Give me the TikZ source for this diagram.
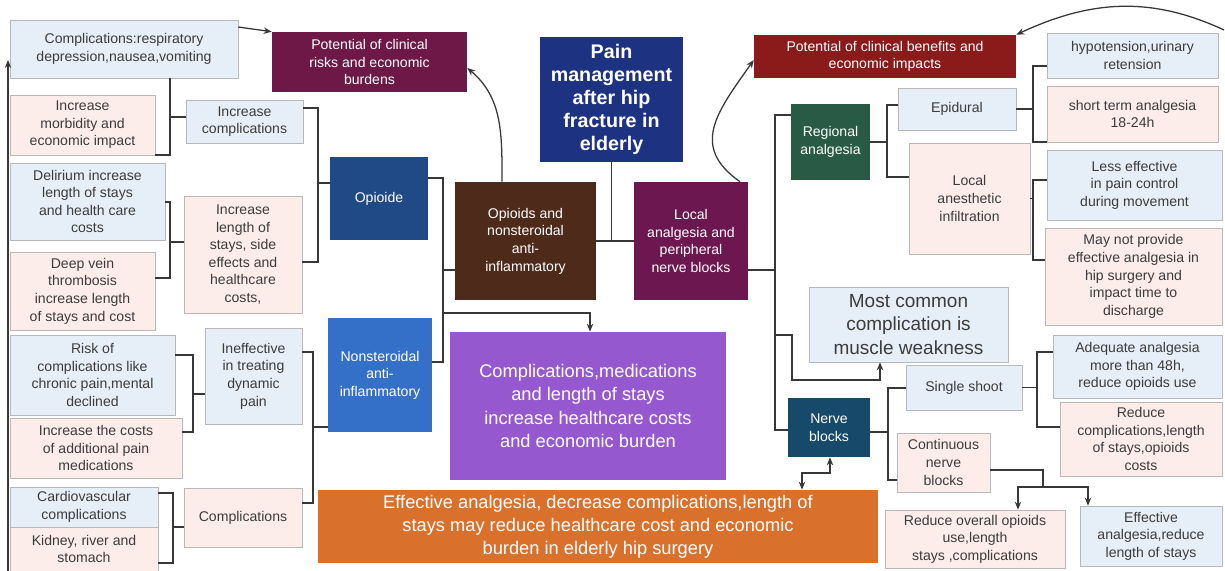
\documentclass[tikz,border=0pt]{standalone}
\usepackage{fontspec}
\setmainfont{Liberation Sans}
\usepackage{tikz}
\usetikzlibrary{
  arrows.meta,
  calc,
  positioning
}
\definecolor{opioblue}{RGB}{31,74,133}
\definecolor{nsaidblue}{RGB}{53,112,200}
\definecolor{riskplum}{RGB}{110,24,72}
\definecolor{painnavy}{RGB}{30,50,130}
\definecolor{mixbrown}{RGB}{78,42,26}
\definecolor{localplum}{RGB}{108,23,80}
\definecolor{costpurple}{RGB}{149,88,207}
\definecolor{effectorange}{RGB}{217,112,44}
\definecolor{benefitred}{RGB}{139,26,26}
\definecolor{regiongreen}{RGB}{40,90,69}
\definecolor{nerveteal}{RGB}{23,74,106}
\definecolor{noteblue}{RGB}{230,238,248}
\definecolor{notepink}{RGB}{252,237,234}
\definecolor{linegray}{RGB}{55,55,55}
\definecolor{textgray}{RGB}{60,60,60}

\begin{document}
\begin{tikzpicture}[
  x=0.025cm, y=-0.025cm,
  box/.style={align=center, inner sep=2pt, font=\fontsize{10}{12.5}\selectfont},
  note/.style={box, draw=black!28, text=textgray},
  noteb/.style={note, fill=noteblue},
  notep/.style={note, fill=notepink},
  dark/.style={box, text=white},
  big/.style={font=\fontsize{13}{16.5}\selectfont},
  sz/.style 2 args={minimum width=#1*0.025cm, minimum height=#2*0.025cm},
  link/.style={draw=linegray, line width=0.9pt},
  arr/.style={link, -{Stealth[length=2mm, width=1.6mm]}},
  darr/.style={link, {Stealth[length=2mm, width=1.6mm]}-{Stealth[length=2mm, width=1.6mm]}}
]
\path[use as bounding box, fill=white] (0,0) rectangle (1225,571);

% Centre
\node[dark, fill=painnavy, sz={143}{125}, font=\fontsize{14}{16.5}\selectfont\bfseries] (pain) at (611.5,99.5) {Pain\\management\\after hip\\fracture in\\elderly};
\node[dark, fill=mixbrown, sz={141}{118}] (both) at (525.5,241) {Opioids and\\nonsteroidal\\anti-\\inflammatory};
\node[dark, fill=localplum, sz={114}{118}] (local) at (691,241) {Local\\analgesia and\\peripheral\\nerve blocks};
\node[dark, fill=costpurple, sz={276}{148}, big] (costs) at (588,406) {Complications,medications\\and length of stays\\increase healthcare costs\\and economic burden};
\node[dark, fill=effectorange, sz={560}{73}, big] (eff) at (598,526.5) {Effective analgesia, decrease complications,length of\\stays may reduce healthcare cost and economic\\burden in elderly hip surgery};

% Opioid side
\node[dark, fill=riskplum, sz={195}{60}] (risks) at (369.5,62) {Potential of clinical\\risks and economic\\burdens};
\node[dark, fill=opioblue, sz={98}{83}] (opio) at (379,198.5) {Opioide};
\node[dark, fill=nsaidblue, sz={104}{114}] (nsaid) at (380,375) {Nonsteroidal\\anti-\\inflammatory};
\node[noteb, sz={117}{43}] (incc) at (244.5,121.5) {Increase\\complications};
\node[notep, sz={118}{117}] (lstay) at (243,254.5) {Increase\\length of\\stays, side\\effects and\\healthcare\\costs,};
\node[noteb, sz={97}{96}] (ineff) at (253.5,376) {Ineffective\\in treating\\dynamic\\pain};
\node[notep, sz={118}{59}] (compl) at (243,517.5) {Complications};
\node[noteb, sz={228}{58}] (cresp) at (124,49) {Complications:respiratory\\depression,nausea,vomiting};
\node[notep, sz={145}{60}] (morb) at (82.5,125) {Increase\\morbidity and\\economic impact};
\node[noteb, sz={155}{77}] (delir) at (87.5,201.5) {Delirium increase\\length of stays\\and health care\\costs};
\node[notep, sz={145}{78}] (dvt) at (82.5,291) {Deep vein\\thrombosis\\increase length\\of stays and cost};
\node[noteb, sz={165}{80}] (risk) at (92.5,375) {Risk of\\complications like\\chronic pain,mental\\declined};
\node[notep, sz={172}{60}] (cost) at (96,448) {Increase the  costs\\of additional pain\\medications};
\node[noteb, sz={148}{40}] (cardio) at (84,507) {Cardiovascular\\complications};
\node[notep, sz={148}{44}] (kidney) at (84,549) {Kidney, river and\\stomach};

% Local analgesia side
\node[dark, fill=benefitred, sz={262}{43}] (benef) at (885,56.5) {Potential of  clinical benefits and\\economic impacts};
\node[dark, fill=regiongreen, sz={79}{76}] (regio) at (830.5,142) {Regional\\analgesia};
\node[noteb, sz={118}{42}] (epid) at (957,109) {Epidural};
\node[notep, sz={121}{111}] (infil) at (969.5,198.5) {Local\\anesthetic\\infiltration};
\node[noteb, sz={171}{45}] (hypo) at (1132.5,55.5) {hypotension,urinary\\retension};
\node[notep, sz={171}{56}] (short) at (1132.5,114) {short term analgesia\\18-24h};
\node[noteb, sz={175}{70}] (less) at (1134.5,185) {Less effective\\in  pain control\\during movement};
\node[notep, sz={177}{97}] (maynot) at (1133.5,276.5) {May not provide\\effective analgesia in\\hip surgery and\\impact time to\\discharge};
\node[noteb, sz={199}{75}, font=\fontsize{13.5}{16.5}\selectfont] (weak) at (908.5,324.5) {Most common\\complication is\\muscle weakness};
\node[dark, fill=nerveteal, sz={82}{59}] (nerve) at (829,427.5) {Nerve\\blocks};
\node[noteb, sz={116}{45}] (single) at (964,387.5) {Single shoot};
\node[noteb, sz={169}{63}] (adeq) at (1137.5,366.5) {Adequate analgesia\\more than 48h,\\reduce opioids use};
\node[notep, sz={162}{74}] (redc) at (1141,439) {Reduce\\complications,length\\of stays,opioids\\costs};
\node[notep, sz={93}{59}] (contin) at (943.5,462.5) {Continuous\\nerve\\blocks};
\node[notep, sz={180}{58}] (redo) at (975,539) {Reduce overall opioids\\use,length\\stays ,complications};
\node[noteb, sz={142}{60}] (effan) at (1151,536) {Effective\\analgesia,reduce\\length of stays};

% Left brackets
\draw[link] (cresp.south -| 170,0) -- (170,155) -- (morb.east |- 0,155);
\draw[link] (170,117) -- (incc.west |- 0,117);
\draw[link] (delir.east |- 0,202) -| (170,278) -- (dvt.east |- 0,278);
\draw[link] (170,242) -- (lstay.west |- 0,242);
\draw[link] (risk.east |- 0,355) -| (193,432) -- (cost.east |- 0,432);
\draw[link] (193,394) -- (ineff.west |- 0,394);
\draw[link] (cardio.east |- 0,493) -| (173,563) -- (kidney.east |- 0,563);
\draw[link] (173,527) -- (compl.west |- 0,527);
\draw[link] (incc.east |- 0,108) -| (318,262) -- (lstay.east |- 0,262);
\draw[link] (318,183) -- (opio.west |- 0,183);
\draw[link] (ineff.east |- 0,352) -| (313,503) -- (compl.east |- 0,503);
\draw[link] (313,427) -- (nsaid.west |- 0,427);
\draw[link] (opio.east |- 0,178) -| (443,362) -- (nsaid.east |- 0,362);
\draw[link] (443,270) -- (both.west |- 0,270);
\draw[arr] (443,313) -| (costs.north -| 590,0);

% Top links
\draw[link] (pain.south) -- (pain.south |- both.east);
\draw[link] (both.east) -- (local.west);
\draw[arr] (both.north -| 502,0) to[out=90, in=-40] (risks.east |- 0,68);
\draw[arr] (local.north -| 740,0) to[out=145, in=235, looseness=1.3] (benef.west |- 0,60);
\draw[arr] (cresp.east |- 0,27) -- (risks.north west);
\coordinate (rtop) at (1224,30);
\draw[arr] (rtop) to[out=155, in=25] (benef.north east);
\coordinate (lbot) at (8,571);
\coordinate (ltop) at (8,60);
\draw[arr] (lbot) -- (ltop);

% Right brackets
\draw[link] (local.east |- 0,270) -- (775,270);
\draw[link] (regio.west |- 0,115) -| (775,430) -- (nerve.west |- 0,430);
\draw[arr] (775,335) -| (792,380) -| (weak.south -| 880,0);
\draw[link] (regio.east) -- (887,142);
\draw[link] (epid.west |- 0,105) -| (887,177) -- (infil.west |- 0,177);
\draw[link] (epid.east) -- (1033,109);
\draw[link] (hypo.west |- 0,66) -| (1033,142) -- (short.west |- 0,142);
\draw[link] (infil.east) -- (1033,198.5);
\draw[link] (less.west |- 0,180) -| (1033,260) -- (maynot.west |- 0,260);
\draw[link] (nerve.east |- 0,432) -- (888,432);
\draw[link] (single.west |- 0,388) -| (888,480) -- (contin.west |- 0,480);
\draw[link] (single.east) -- (1037,387.5);
\draw[link] (adeq.west |- 0,352) -| (1037,427) -- (redc.west |- 0,427);
\draw[link] (contin.east |- 0,470) -| (1043,487);
\draw[arr] (1043,487) -| (redo.north -| 1018,0);
\draw[arr] (1043,487) -| (effan.north -| 1088,0);
\draw[darr] (eff.north -| 802,0) |- (830,473) -- (nerve.south -| 830,0);

\end{tikzpicture}
\end{document}
